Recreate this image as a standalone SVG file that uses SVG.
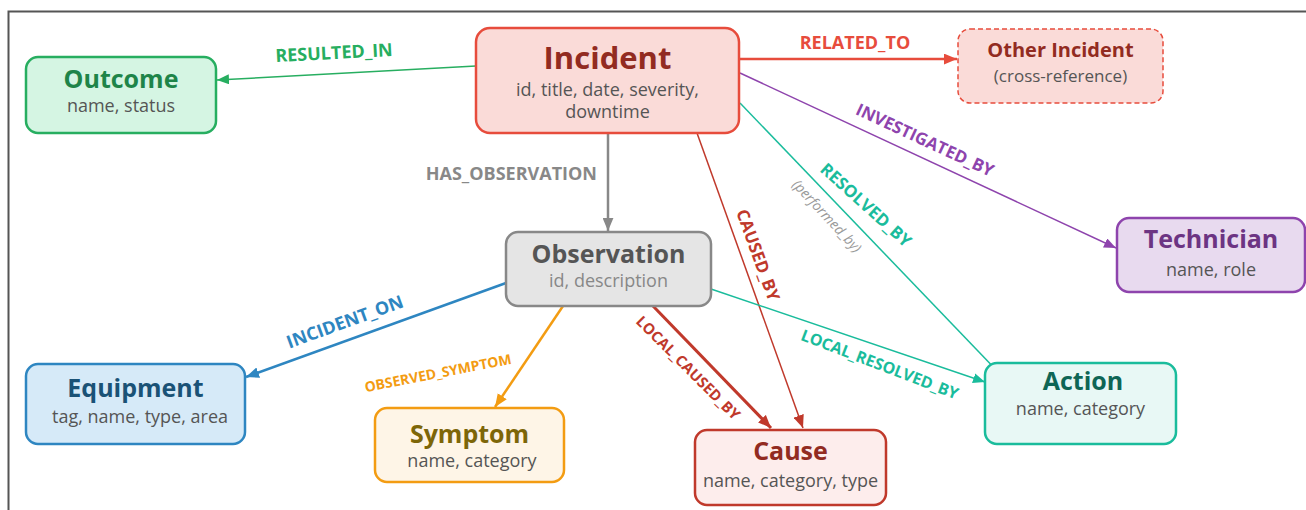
<svg xmlns="http://www.w3.org/2000/svg" width="1306" height="510" viewBox="0 0 1306 510">
  <style>
    text { font-family: "Open Sans", "Noto Sans", "DejaVu Sans", sans-serif; }
    .node { stroke-width: 2.5; }
    .title { font-weight: 700; font-size: 25px; text-anchor: middle; }
    .sub { font-size: 18px; fill: #555; text-anchor: middle; }
    .lbl { font-weight: 700; font-size: 18px; text-anchor: middle; }
    .edge { fill: none; }
  </style>
  <defs>
    <marker id="ah-green" viewBox="0 0 12 10" refX="12" refY="5" markerWidth="12" markerHeight="10" markerUnits="userSpaceOnUse" orient="auto"><path d="M0,0 L12,5 L0,10 z" fill="#27ae60"/></marker>
    <marker id="ah-red" viewBox="0 0 12 10" refX="12" refY="5" markerWidth="13" markerHeight="11" markerUnits="userSpaceOnUse" orient="auto"><path d="M0,0 L12,5 L0,10 z" fill="#e74c3c"/></marker>
    <marker id="ah-gray" viewBox="0 0 12 10" refX="12" refY="5" markerWidth="13" markerHeight="11" markerUnits="userSpaceOnUse" orient="auto"><path d="M0,0 L12,5 L0,10 z" fill="#888888"/></marker>
    <marker id="ah-purple" viewBox="0 0 12 10" refX="12" refY="5" markerWidth="12" markerHeight="10" markerUnits="userSpaceOnUse" orient="auto"><path d="M0,0 L12,5 L0,10 z" fill="#8e44ad"/></marker>
    <marker id="ah-teal" viewBox="0 0 12 10" refX="12" refY="5" markerWidth="12" markerHeight="10" markerUnits="userSpaceOnUse" orient="auto"><path d="M0,0 L12,5 L0,10 z" fill="#1abc9c"/></marker>
    <marker id="ah-dred" viewBox="0 0 12 10" refX="12" refY="5" markerWidth="13" markerHeight="11" markerUnits="userSpaceOnUse" orient="auto"><path d="M0,0 L12,5 L0,10 z" fill="#c0392b"/></marker>
    <marker id="ah-blue" viewBox="0 0 12 10" refX="12" refY="5" markerWidth="13" markerHeight="11" markerUnits="userSpaceOnUse" orient="auto"><path d="M0,0 L12,5 L0,10 z" fill="#2e86c1"/></marker>
    <marker id="ah-orange" viewBox="0 0 12 10" refX="12" refY="5" markerWidth="13" markerHeight="11" markerUnits="userSpaceOnUse" orient="auto"><path d="M0,0 L12,5 L0,10 z" fill="#f39c12"/></marker>
  </defs>

  <rect width="1306" height="510" fill="#ffffff"/>
  <!-- outer frame -->
  <path d="M8.5,510 L8.5,11.5 L1306,11.5" fill="none" stroke="#555" stroke-width="2"/>

  <!-- relationships -->
  <g id="connectors">
    <path class="edge" d="M476,66 L217,80" stroke="#27ae60" stroke-width="1.5" marker-end="url(#ah-green)"/>
    <path class="edge" d="M739,59 L957,59" stroke="#e74c3c" stroke-width="2.5" marker-end="url(#ah-red)"/>
    <path class="edge" d="M608,133 L608,231" stroke="#888888" stroke-width="2.5" marker-end="url(#ah-gray)"/>
    <path class="edge" d="M740,73 L1116,248" stroke="#8e44ad" stroke-width="1.5" marker-end="url(#ah-purple)"/>
    <path class="edge" d="M740,103 L1001,375" stroke="#1abc9c" stroke-width="1.5" marker-end="url(#ah-teal)"/>
    <path class="edge" d="M697,133 L803,428" stroke="#c0392b" stroke-width="1.5" marker-end="url(#ah-dred)"/>
    <path class="edge" d="M506,283 L246,377" stroke="#2e86c1" stroke-width="2.5" marker-end="url(#ah-blue)"/>
    <path class="edge" d="M563,306 L495,407" stroke="#f39c12" stroke-width="2.5" marker-end="url(#ah-orange)"/>
    <path class="edge" d="M653,306 L771,428" stroke="#c0392b" stroke-width="3" marker-end="url(#ah-dred)"/>
    <path class="edge" d="M711,289 L985,382" stroke="#1abc9c" stroke-width="1.5" marker-end="url(#ah-teal)"/>

    <text class="lbl" fill="#27ae60" transform="translate(334,53) rotate(-3)" y="6">RESULTED_IN</text>
    <text class="lbl" fill="#e74c3c" x="855" y="49">RELATED_TO</text>
    <text class="lbl" fill="#888888" x="597" y="180" style="text-anchor:end">HAS_OBSERVATION</text>
    <text class="lbl" fill="#8e44ad" style="font-size:17px" transform="translate(925,140) rotate(25)" y="6">INVESTIGATED_BY</text>
    <text class="lbl" fill="#1abc9c" style="font-size:17px" transform="translate(866,205) rotate(42)" y="6">RESOLVED_BY</text>
    <text fill="#999999" font-size="14" font-style="italic" text-anchor="middle" transform="translate(827,216) rotate(47)" y="5">(performed_by)</text>
    <text class="lbl" fill="#c0392b" style="font-size:17px" transform="translate(758,255) rotate(70)" y="6">CAUSED_BY</text>
    <text class="lbl" fill="#2e86c1" transform="translate(345,322) rotate(-20)" y="6">INCIDENT_ON</text>
    <text class="lbl" fill="#f39c12" style="font-size:14px" transform="translate(438,373) rotate(-11)" y="5">OBSERVED_SYMPTOM</text>
    <text class="lbl" fill="#c0392b" style="font-size:15px" transform="translate(688,368) rotate(45)" y="5">LOCAL_CAUSED_BY</text>
    <text class="lbl" fill="#1abc9c" style="font-size:16px" transform="translate(880,364) rotate(21)" y="6">LOCAL_RESOLVED_BY</text>
  </g>

  <!-- entities -->
  <g id="outcome">
    <rect class="node" x="26" y="57" width="190" height="76" rx="12" fill="#d5f5e3" stroke="#27ae60"/>
    <text class="title" x="121" y="88" fill="#1e8449">Outcome</text>
    <text class="sub" x="121" y="112">name, status</text>
  </g>
  <g id="incident">
    <rect class="node" x="476" y="28" width="263" height="105" rx="14" fill="#fadbd8" stroke="#e74c3c"/>
    <text class="title" x="607.5" y="69" fill="#922b21" style="font-size:31px">Incident</text>
    <text class="sub" x="607.5" y="96">id, title, date, severity,</text>
    <text class="sub" x="607.5" y="118">downtime</text>
  </g>
  <g id="other-incident">
    <rect x="958" y="29" width="205" height="74" rx="12" fill="#fadbd8" stroke="#e74c3c" stroke-width="1.5" stroke-dasharray="5,3"/>
    <text class="title" x="1060.5" y="57" fill="#922b21" style="font-size:20px">Other Incident</text>
    <text class="sub" x="1060.5" y="82" style="font-size:17px">(cross-reference)</text>
  </g>
  <g id="technician">
    <rect class="node" x="1117" y="218" width="188" height="74" rx="12" fill="#e8daef" stroke="#8e44ad"/>
    <text class="title" x="1211" y="248" fill="#6c3483">Technician</text>
    <text class="sub" x="1211" y="276">name, role</text>
  </g>
  <g id="observation">
    <rect class="node" x="506" y="232" width="205" height="74" rx="12" fill="#e5e5e5" stroke="#888888"/>
    <text class="title" x="608.5" y="263" fill="#555555">Observation</text>
    <text class="sub" x="608.5" y="287" style="fill:#888888">id, description</text>
  </g>
  <g id="equipment">
    <rect class="node" x="26" y="364" width="219" height="80" rx="12" fill="#d6eaf8" stroke="#2e86c1"/>
    <text class="title" x="135.5" y="397" fill="#1a5276">Equipment</text>
    <text class="sub" x="140" y="423">tag, name, type, area</text>
  </g>
  <g id="symptom">
    <rect class="node" x="375" y="408" width="189" height="74" rx="12" fill="#fef5e7" stroke="#f39c12"/>
    <text class="title" x="469.5" y="443" fill="#7d6608">Symptom</text>
    <text class="sub" x="472" y="467">name, category</text>
  </g>
  <g id="cause">
    <rect class="node" x="695" y="430" width="191" height="75" rx="12" fill="#fdedec" stroke="#c0392b"/>
    <text class="title" x="790.5" y="460" fill="#922b21">Cause</text>
    <text class="sub" x="790.5" y="487">name, category, type</text>
  </g>
  <g id="action">
    <rect class="node" x="985" y="363" width="191" height="81" rx="12" fill="#e8f8f5" stroke="#1abc9c"/>
    <text class="title" x="1083" y="390" fill="#0e6655">Action</text>
    <text class="sub" x="1080.5" y="415">name, category</text>
  </g>
</svg>
